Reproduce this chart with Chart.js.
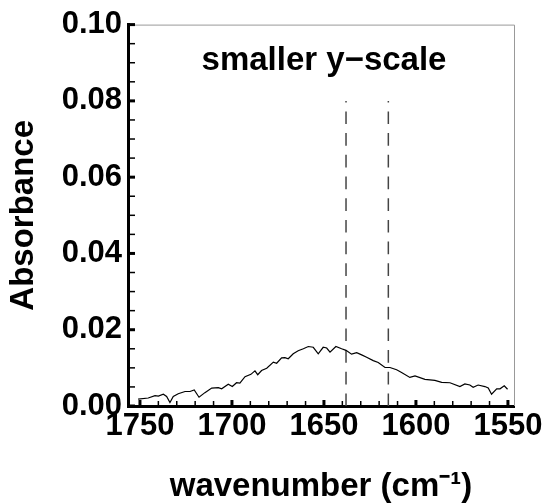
<!DOCTYPE html>
<html>
<head>
<meta charset="utf-8">
<style>
  html, body { margin: 0; padding: 0; background: #fff; }
  #chartCanvas { display: block; }
</style>
<script src="https://cdn.jsdelivr.net/npm/chart.js@4/dist/chart.umd.min.js"></script>
</head>
<body>
<canvas id="chartCanvas" width="547" height="503"></canvas>
<script>
/********** DATA **********/
// spectrum (wavenumber in cm-1, absorbance)
const wavenumbers = [
  1751, 1745.5, 1741.8, 1740, 1737.3, 1735.5, 1733.7, 1731.9, 1729.2, 1725.5,
  1722.8, 1720.5, 1717.9, 1714.7, 1711, 1707.4, 1705.6, 1702, 1699.8, 1697.5,
  1695.7, 1692.9, 1689.7, 1687.5, 1686, 1683.9, 1681.1, 1677.5, 1675.7, 1673,
  1671.2, 1669.4, 1666.7, 1664, 1661.2, 1658.5, 1655.8, 1653.1, 1650.4, 1648.5,
  1646.7, 1643.5, 1640.4, 1638, 1635, 1632.2, 1629.5, 1626.8, 1623.2, 1620.5,
  1616.8, 1614.1, 1610.5, 1607.8, 1603.3, 1600.5, 1595.1, 1589.7, 1586, 1581.5,
  1576.1, 1573.4, 1570.7, 1568.9, 1566.2, 1562.5, 1560.7, 1558.9, 1556.1, 1554.3,
  1552, 1550.2
];
const absorbance = [
  0.0018, 0.0021, 0.0027, 0.0026, 0.0031, 0.0025, 0.0009, 0.0025, 0.0032, 0.0038,
  0.0038, 0.0042, 0.0023, 0.0035, 0.0047, 0.0048, 0.0045, 0.0057, 0.0051, 0.0061,
  0.0060, 0.0077, 0.0083, 0.0092, 0.0082, 0.0093, 0.0099, 0.0115, 0.0112, 0.0126,
  0.0127, 0.0124, 0.0137, 0.0145, 0.0150, 0.0156, 0.0154, 0.0137, 0.0154, 0.0152,
  0.0141, 0.0156, 0.0150, 0.0146, 0.0136, 0.0140, 0.0134, 0.0128, 0.0119, 0.0114,
  0.0101, 0.0101, 0.0095, 0.0088, 0.0075, 0.0079, 0.0070, 0.0067, 0.0062, 0.0061,
  0.0051, 0.0058, 0.0055, 0.0049, 0.0055, 0.0051, 0.0047, 0.0031, 0.0045, 0.0045,
  0.0053, 0.0044
];
// dashed marker lines
const markerWavenumbers = [1638, 1615];
const markerTop = 0.08;

const xRange = [1546.7, 1756.5];
const yRange = [0, 0.1];

const FONT = "'Liberation Sans', Arial, Helvetica, sans-serif";

/********** PLUGIN: inward ticks, frame, in-plot label **********/
const framePlugin = {
  id: 'frame',
  afterDraw(chart) {
    const ctx = chart.ctx;
    const a = chart.chartArea;
    const xs = chart.scales.x, ys = chart.scales.y;
    ctx.save();
    // thin grey top / right edges
    ctx.strokeStyle = '#999';
    ctx.lineWidth = 1;
    ctx.beginPath();
    ctx.moveTo(a.left, a.top + 0.5);
    ctx.lineTo(a.right + 0.5, a.top + 0.5);
    ctx.lineTo(a.right + 0.5, a.bottom);
    ctx.stroke();
    // ticks pointing into the plot
    ctx.strokeStyle = '#000';
    xs.ticks.forEach(t => {
      const px = xs.getPixelForValue(t.value);
      const major = Math.round(t.value) % 50 === 0;
      ctx.lineWidth = major ? 3 : 1.5;
      ctx.beginPath();
      ctx.moveTo(px, a.bottom);
      ctx.lineTo(px, a.bottom - (major ? 6 : 5));
      ctx.stroke();
    });
    ys.ticks.forEach(t => {
      const py = ys.getPixelForValue(t.value);
      const major = Math.round(t.value * 1000) % 20 === 0;
      ctx.lineWidth = major ? 3 : 1.5;
      ctx.beginPath();
      ctx.moveTo(a.left, py);
      ctx.lineTo(a.left + 7, py);
      ctx.stroke();
    });
    // label inside the plot
    ctx.fillStyle = '#000';
    ctx.font = 'bold 33px ' + FONT;
    ctx.textAlign = 'center';
    ctx.textBaseline = 'alphabetic';
    ctx.fillText('smaller y\u2212scale', 324, 70);
    ctx.restore();
  }
};

/********** CHART.JS SETUP **********/
const spectrum = wavenumbers.map((w, i) => ({ x: w, y: absorbance[i] }));
const markerSets = markerWavenumbers.map(w => ({
  data: [{ x: w, y: markerTop }, { x: w, y: 0 }],
  borderColor: '#444',
  borderWidth: 1.5,
  borderDash: [12.7, 9],
  borderDashOffset: 11.2,
  pointRadius: 0,
  fill: false
}));

const ctx = document.getElementById('chartCanvas').getContext('2d');
new Chart(ctx, {
  type: 'line',
  data: {
    datasets: [
      {
        data: spectrum,
        borderColor: '#000',
        borderWidth: 1.2,
        pointRadius: 0,
        tension: 0,
        fill: false
      },
      ...markerSets
    ]
  },
  options: {
    responsive: false,
    animation: false,
    devicePixelRatio: 1,
    parsing: false,
    layout: { padding: { top: 24, right: 33, left: 0, bottom: 0 } },
    plugins: { legend: { display: false }, tooltip: { enabled: false } },
    scales: {
      x: {
        type: 'linear',
        position: 'bottom',
        reverse: true,
        min: xRange[0],
        max: xRange[1],
        afterFit(scale) { scale.height = 97; },
        grid: { display: false, drawTicks: false },
        border: { display: true, color: '#000', width: 3 },
        ticks: {
          stepSize: 10,
          includeBounds: false,
          autoSkip: false,
          maxRotation: 0,
          padding: 2,
          color: '#000',
          font: { family: FONT, size: 31, weight: 'bold' },
          callback: v => (Math.round(v) % 50 === 0 ? String(Math.round(v)) : '')
        },
        title: {
          display: true,
          text: 'wavenumber (cm\u207B\u00B9)',
          color: '#000',
          font: { family: FONT, size: 33, weight: 'bold', lineHeight: 1 },
          padding: { top: 0, bottom: 0 }
        }
      },
      y: {
        type: 'linear',
        position: 'left',
        min: yRange[0],
        max: yRange[1],
        afterFit(scale) { scale.width = 128; },
        grid: { display: false, drawTicks: false },
        border: { display: true, color: '#000', width: 3 },
        ticks: {
          stepSize: 0.005,
          autoSkip: false,
          padding: 6,
          color: '#000',
          font: { family: FONT, size: 31, weight: 'bold' },
          callback: v => (Math.round(v * 1000) % 20 === 0 ? v.toFixed(2) : '')
        },
        title: {
          display: true,
          text: 'Absorbance',
          color: '#000',
          font: { family: FONT, size: 33, weight: 'bold', lineHeight: 1.2 },
          padding: { top: 4, bottom: 0 }
        }
      }
    }
  },
  plugins: [framePlugin]
});
</script>
</body>
</html>
